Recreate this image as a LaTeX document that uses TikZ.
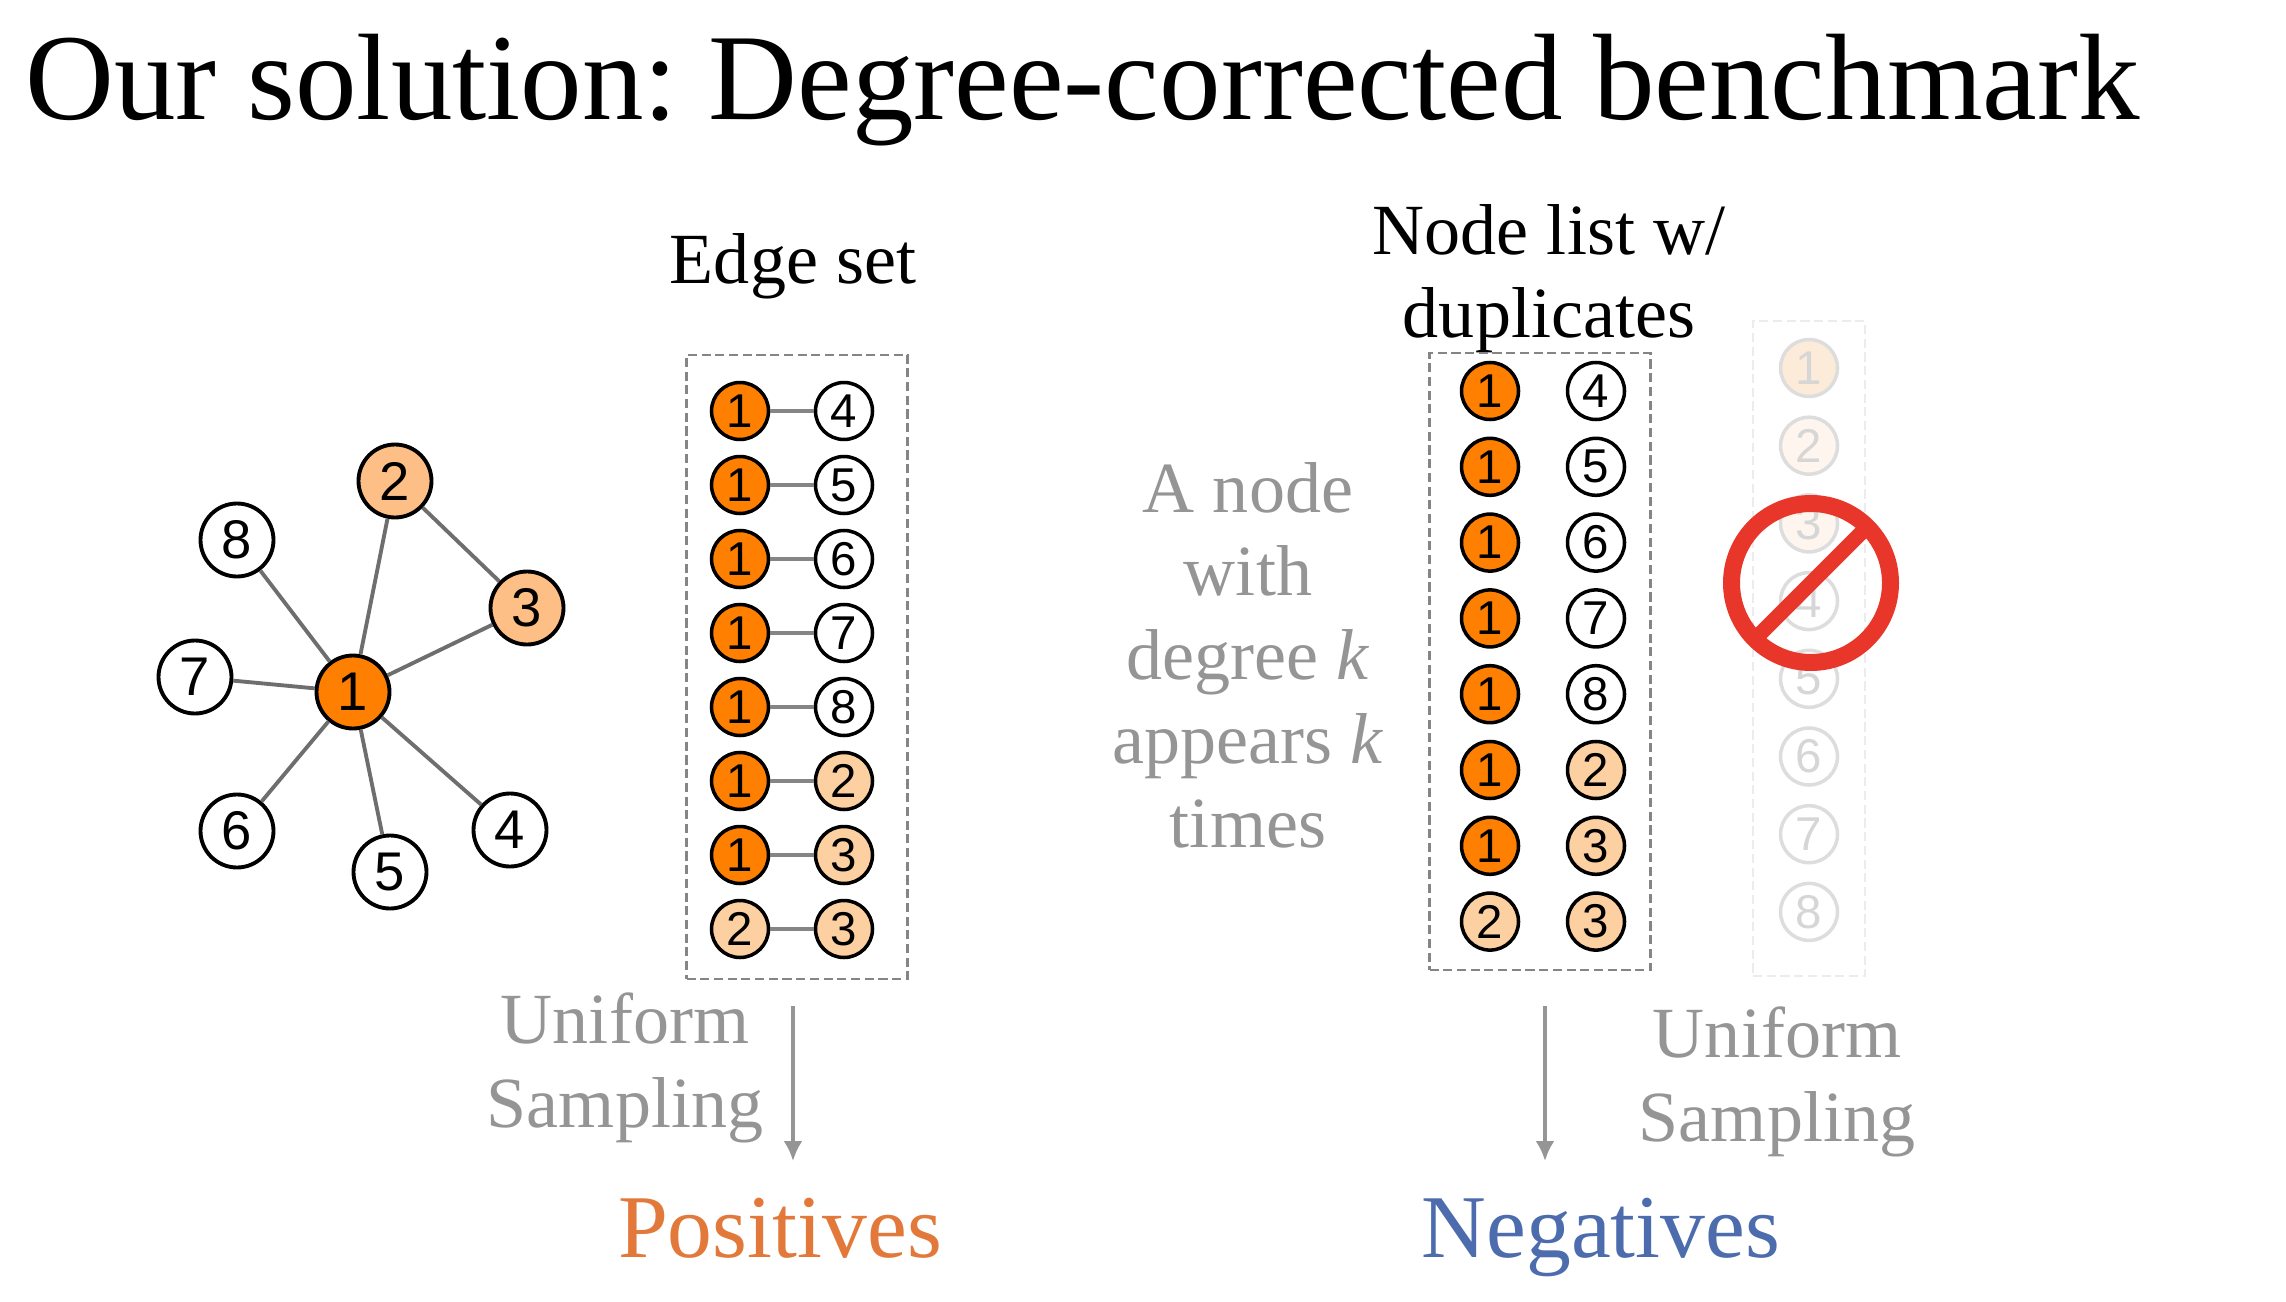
\documentclass[tikz,border=0pt]{standalone}
\usepackage{fontspec}
\setmainfont{Liberation Serif}
\newfontfamily\numfont{Liberation Sans}
\usepackage{tikz}
\usetikzlibrary{arrows.meta,positioning}
\usepackage{xcolor}
\frenchspacing
\definecolor{NodeOrange}{HTML}{FF7F00}
\definecolor{NodeLight}{HTML}{FDBF85}
\definecolor{NodePeach}{HTML}{FDD0A2}
\definecolor{EdgeGray}{HTML}{6E6E6E}
\definecolor{BoxGray}{HTML}{858585}
\definecolor{TextGray}{HTML}{959595}
\definecolor{PosOrange}{HTML}{E2793B}
\definecolor{NegBlue}{HTML}{4C6CAD}
\definecolor{StopRed}{HTML}{E8372A}
\definecolor{FadeGray}{HTML}{DDDDDD}
\definecolor{FadeText}{HTML}{D6D6D6}
\definecolor{FadeBox}{HTML}{ECECEC}
\definecolor{FadeOrange}{HTML}{FDEBDA}
\definecolor{FadePeach}{HTML}{FEF6EE}
\tikzset{
  vtx/.style={circle,draw,fill=white,line width=1.1pt,minimum size=0.73cm,inner sep=0pt,font=\numfont\fontsize{15.5}{15.5}\selectfont},
  lnode/.style={circle,draw,fill=white,line width=1pt,minimum size=0.57cm,inner sep=0pt,font=\numfont\fontsize{13.5}{13.5}\selectfont},
  fnode/.style={lnode,draw=FadeGray,text=FadeText},
  link/.style={draw=EdgeGray,line width=1.1pt},
  dashbox/.style={draw=BoxGray,line width=0.7pt,dash pattern=on 2.6pt off 1.3pt,inner sep=0pt},
  head/.style={anchor=base,font=\fontsize{20.5}{24}\selectfont},
  note/.style={head,text=TextGray},
  samp/.style={draw=TextGray,line width=1pt,-{Latex[length=2mm,width=1.9mm]}},
}
\begin{document}
\begin{tikzpicture}
  \useasboundingbox (0,0) rectangle (22.86,-13.02);
  \node[anchor=base west,font=\fontsize{35}{40}\selectfont] (title) at (0.13,-1.20) {Our solution: Degree-corrected benchmark};

  \node[vtx,fill=NodeOrange] (g1) at (3.53,-6.92) {1};
  \node[vtx,fill=NodeLight] (g2) at (3.95,-4.81) {2};
  \node[vtx,fill=NodeLight] (g3) at (5.27,-6.08) {3};
  \node[vtx] (g4) at (5.10,-8.30) {4};
  \node[vtx] (g5) at (3.90,-8.72) {5};
  \node[vtx] (g6) at (2.37,-8.31) {6};
  \node[vtx] (g7) at (1.95,-6.77) {7};
  \node[vtx] (g8) at (2.37,-5.40) {8};
  \foreach \v in {2,3,4,5,6,7,8}
    \draw[link] (g1) -- (g\v);
  \draw[link] (g2) -- (g3);

  \node[head] (eshead) at (7.93,-2.83) {Edge set};
  \node[dashbox,minimum width=2.21cm,minimum height=6.24cm] (eset) at (7.97,-6.668) {};
  \foreach \a/\b/\fa/\fb [count=\i from 0] in {1/4/NodeOrange/white,1/5/NodeOrange/white,1/6/NodeOrange/white,1/7/NodeOrange/white,1/8/NodeOrange/white,1/2/NodeOrange/NodePeach,1/3/NodeOrange/NodePeach,2/3/NodePeach/NodePeach} {
    \node[lnode,fill=\fa] (el\i) at (7.40,{-4.11-0.74*\i}) {\a};
    \node[lnode,fill=\fb] (er\i) at (8.44,{-4.11-0.74*\i}) {\b};
    \draw[link,line width=0.9pt,draw=BoxGray] (el\i) -- (er\i);
  }
  \coordinate (ptop) at (7.93,-10.06);
  \coordinate (pend) at (7.93,-11.61);
  \draw[samp] (ptop) -- (pend);
  \node[note] (pu1) at (6.25,-10.43) {Uniform};
  \node[note] (pu2) at (6.25,-11.27) {Sampling};
  \node[anchor=base,font=\fontsize{25.5}{30}\selectfont,text=PosOrange] (pos) at (7.80,-12.57) {Positives};

  \node[head] (nlhead1) at (15.49,-2.54) {Node list w/};
  \node[head] (nlhead2) at (15.49,-3.37) {duplicates};
  \node[dashbox,minimum width=2.21cm,minimum height=6.17cm] (nlist) at (15.40,-6.615) {};
  \foreach \a/\b/\fa/\fb [count=\i from 0] in {1/4/NodeOrange/white,1/5/NodeOrange/white,1/6/NodeOrange/white,1/7/NodeOrange/white,1/8/NodeOrange/white,1/2/NodeOrange/NodePeach,1/3/NodeOrange/NodePeach,2/3/NodePeach/NodePeach} {
    \node[lnode,fill=\fa] (nl\i) at (14.90,{-3.91-0.758*\i}) {\a};
    \node[lnode,fill=\fb] (nr\i) at (15.96,{-3.91-0.758*\i}) {\b};
  }
  \foreach \t [count=\i from 0] in {A node,with,degree \textit{k},appears \textit{k},times}
    \node[note] (deg\i) at (12.48,{-5.12-0.8375*\i}) {\t};

  \node[dashbox,draw=FadeBox,minimum width=1.12cm,minimum height=6.55cm] (fade) at (18.09,-6.485) {};
  \foreach \a/\fa [count=\i from 0] in {1/FadeOrange,2/FadePeach,3/FadePeach,4/white,5/white,6/white,7/white,8/white}
    \node[fnode,fill=\fa] (fd\i) at (18.09,{-3.68-0.777*\i}) {\a};
  \node[circle,draw=StopRed,line width=0.17cm,minimum size=1.59cm,inner sep=0pt,outer sep=0pt] (stop) at (18.11,-5.83) {};
  \draw[StopRed,line width=0.15cm] (stop.45) -- (stop.225);

  \coordinate (ntop) at (15.45,-10.06);
  \coordinate (nend) at (15.45,-11.61);
  \draw[samp] (ntop) -- (nend);
  \node[note] (nu1) at (17.77,-10.57) {Uniform};
  \node[note] (nu2) at (17.77,-11.41) {Sampling};
  \node[anchor=base,font=\fontsize{25.5}{30}\selectfont,text=NegBlue] (neg) at (16.01,-12.57) {Negatives};
\end{tikzpicture}
\end{document}
